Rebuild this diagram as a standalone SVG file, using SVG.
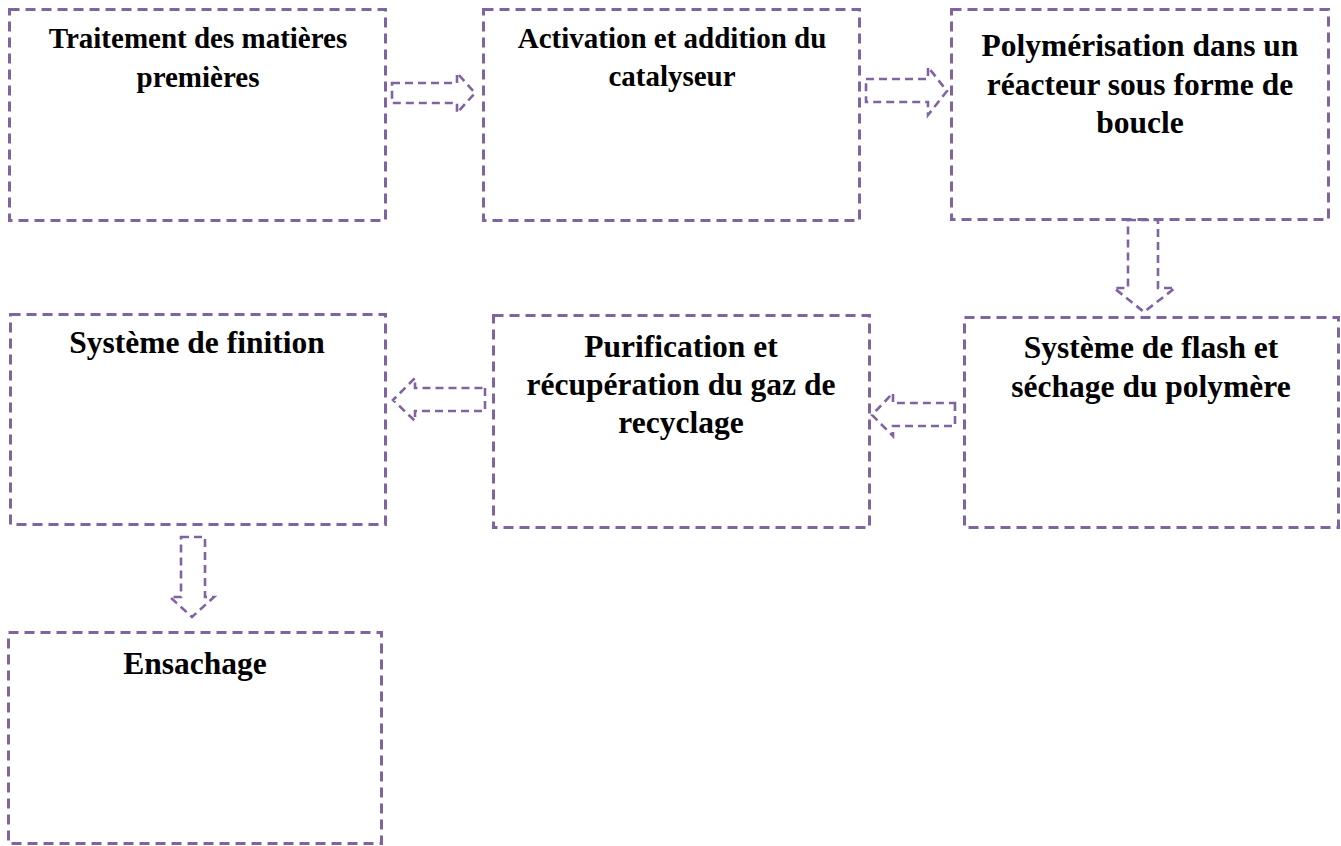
<svg xmlns="http://www.w3.org/2000/svg" width="1341" height="846" viewBox="0 0 1341 846">
  <style>
    .box { fill: none; stroke: #8064A2; stroke-width: 3; stroke-dasharray: 10 6; }
    .arrow { fill: none; stroke: #8064A2; stroke-width: 2.6; stroke-dasharray: 8 5; }
    .lbl { font-family: "Liberation Serif", "Times New Roman", serif; font-weight: bold; fill: #000; text-anchor: middle; }
    .s29 { font-size: 29px; }
    .s32 { font-size: 31.5px; }
  </style>
  <rect width="1341" height="846" fill="#fff"/>

  <!-- process steps -->
  <g id="n1">
    <rect class="box" x="9.5" y="9.5" width="376" height="211"/>
    <text class="lbl s29" x="198" y="48">Traitement des matières</text>
    <text class="lbl s29" x="198" y="87">premières</text>
  </g>
  <g id="n2">
    <rect class="box" x="483.5" y="9.5" width="376" height="211"/>
    <text class="lbl s29" x="672" y="48">Activation et addition du</text>
    <text class="lbl s29" x="672" y="86">catalyseur</text>
  </g>
  <g id="n3">
    <rect class="box" x="951.5" y="9.5" width="377" height="210"/>
    <text class="lbl s32" x="1140" y="56">Polymérisation dans un</text>
    <text class="lbl s32" x="1140" y="95">réacteur sous forme de</text>
    <text class="lbl s32" x="1140" y="133">boucle</text>
  </g>
  <g id="n4">
    <rect class="box" x="964.5" y="317.5" width="374" height="210"/>
    <text class="lbl s32" x="1151" y="358">Système de flash et</text>
    <text class="lbl s32" x="1151" y="397">séchage du polymère</text>
  </g>
  <g id="n5">
    <rect class="box" x="493.5" y="315.5" width="376" height="212"/>
    <text class="lbl s32" x="681" y="357">Purification et</text>
    <text class="lbl s32" x="681" y="395">récupération du gaz de</text>
    <text class="lbl s32" x="681" y="433">recyclage</text>
  </g>
  <g id="n6">
    <rect class="box" x="10.5" y="314.5" width="375" height="210"/>
    <text class="lbl s32" x="197" y="353">Système de finition</text>
  </g>
  <g id="n7">
    <rect class="box" x="8.5" y="632.5" width="373" height="211"/>
    <text class="lbl s32" x="195" y="674">Ensachage</text>
  </g>

  <!-- block arrows between steps -->
  <g id="connectors">
    <path class="arrow" d="M392,83 H457 V73 L475,93 L457,113 V103 H392 Z"/>
    <path class="arrow" d="M866,79 H928 V67 L947,91 L928,115 V102 H866 Z"/>
    <path class="arrow" d="M1128,220 H1158 V288 H1175 L1144,312 L1114,288 H1128 Z"/>
    <path class="arrow" d="M955,403 V426 H893 V436 L872,415 L893,393 V403 Z"/>
    <path class="arrow" d="M485,388 V411 H415 V421 L393,400 L415,378 V388 Z"/>
    <path class="arrow" d="M181,537 H205 V597 H214 L192,617 L170,597 H181 Z"/>
  </g>
</svg>
